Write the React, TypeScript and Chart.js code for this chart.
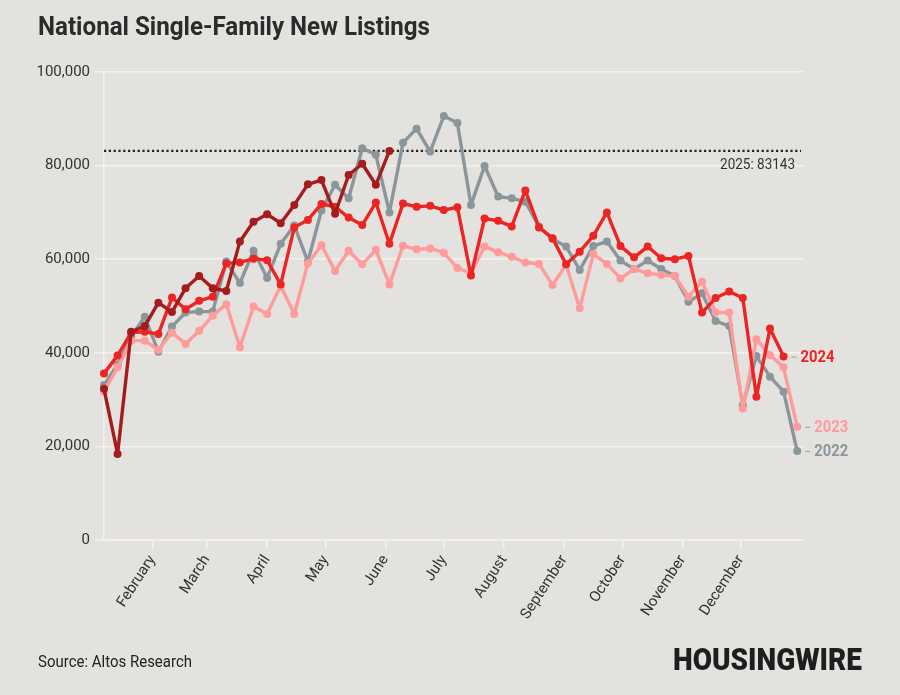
import React, { useEffect, useMemo, useRef } from "react";
import { Chart, registerables } from "chart.js";

Chart.register(...registerables);

// ---- data ----
const weekDays = [
  7, 14, 21, 28, 35, 42, 49, 56, 63, 70, 77, 84, 91, 98, 105, 112, 119, 126, 133, 140, 147, 154, 161, 168, 175, 182,
  189, 196, 203, 210, 217, 224, 231, 238, 245, 252, 259, 266, 273, 280, 287, 294, 301, 308, 315, 322, 329, 336, 343,
  350, 357, 364,
];

const monthTickDays = [32, 60, 91, 121, 152, 182, 213, 244, 274, 305, 335];
const monthNames = [
  "February",
  "March",
  "April",
  "May",
  "June",
  "July",
  "August",
  "September",
  "October",
  "November",
  "December",
];

const yTickValues = [0, 20000, 40000, 60000, 80000, 100000];

const values2022 = [
  33100, 37500, 43500, 47700, 40200, 45600, 48600, 48800, 48800, 59500, 54900, 61800, 56000, 63300, 67200, 59500,
  70400, 75900, 73000, 83700, 82300, 70000, 84900, 87900, 83000, 90600, 89100, 71600, 79900, 73400, 73000, 72300,
  67000, 64300, 62700, 57700, 62800, 63800, 59700, 57900, 59700, 57900, 56400, 50900, 52700, 46800, 45700, 28800,
  39300, 34900, 31700, 19000,
];

const values2023 = [
  31700, 36900, 42600, 42600, 40600, 44300, 41900, 44700, 47900, 50400, 41200, 49900, 48300, 54300, 48300, 59100,
  63000, 57500, 61800, 58900, 62000, 54600, 62900, 62100, 62300, 61400, 58100, 57000, 62700, 61500, 60500, 59300,
  59000, 54500, 58800, 49500, 61100, 59000, 55900, 57900, 57000, 56600, 56400, 52000, 55200, 48600, 48600, 28100,
  42900, 39500, 36900, 24200,
];

const values2024 = [
  35600, 39400, 44300, 44500, 44000, 51800, 49300, 51100, 52000, 59100, 59300, 60100, 59800, 54600, 66800, 68400,
  71800, 71200, 68900, 67300, 72100, 63300, 71900, 71200, 71400, 70500, 71100, 56500, 68700, 68200, 67000, 74700,
  66800, 64500, 58900, 61600, 65000, 70000, 62800, 60400, 62700, 60200, 60000, 60700, 48600, 51700, 53100, 51700,
  30600, 45200, 39200,
];

const values2025 = [
  32300, 18400, 44500, 45700, 50700, 48700, 53800, 56400, 53800, 53200, 63800, 68000, 69600, 67700, 71600, 76000,
  76900, 69700, 78000, 80400, 75900, 83143,
];

const ref2025 = 83143;
const refSpanDays = [7, 366];

// ---- styles ----
const BG = "#e4e2df";
const GRID = "#f3f2ef";
const TEXT = "#333333";
const C2022 = "#8b969a";
const C2023 = "#ff9b9b";
const C2024 = "#ec2424";
const C2025 = "#a51c1c";

const toPoints = (vals: number[]) => vals.map((v, i) => ({ x: weekDays[i], y: v }));

const seriesLabels = [
  { text: "2024", color: C2024, values: values2024 },
  { text: "2023", color: C2023, values: values2023 },
  { text: "2022", color: C2022, values: values2022 },
];

const labelPlugin = {
  id: "endLabels",
  afterDatasetsDraw(chart: any) {
    const ctx = chart.ctx as CanvasRenderingContext2D;
    const xs = chart.scales.x;
    const ys = chart.scales.y;
    ctx.save();
    // reference label
    ctx.font = "15px Roboto";
    ctx.fillStyle = TEXT;
    ctx.textBaseline = "middle";
    const refText = `2025: ${ref2025}`;
    const w = ctx.measureText(refText).width * 0.9;
    ctx.save();
    ctx.translate(chart.chartArea.right - 8 - w, ys.getPixelForValue(ref2025) + 14);
    ctx.scale(0.9, 1);
    ctx.fillText(refText, 0, 0);
    ctx.restore();

    // end labels
    seriesLabels.forEach((s) => {
      const i = s.values.length - 1;
      const px = xs.getPixelForValue(weekDays[i]);
      const py = ys.getPixelForValue(s.values[i]);
      ctx.strokeStyle = "#9a9a9a";
      ctx.lineWidth = 1;
      ctx.beginPath();
      ctx.moveTo(px + 8, py + 0.5);
      ctx.lineTo(px + 13, py + 0.5);
      ctx.stroke();
      ctx.save();
      ctx.translate(px + 17, py + 1);
      ctx.scale(0.87, 1);
      ctx.font = "bold 17px Roboto";
      ctx.fillStyle = s.color;
      ctx.textBaseline = "middle";
      ctx.fillText(s.text, 0, 0);
      ctx.restore();
    });
    ctx.restore();
  },
};

function FitText(props: {
  text: string;
  size: number;
  weight: number;
  width: number;
  left: number;
  top: number;
  color: string;
}) {
  const { text, size, weight, width, left, top, color } = props;
  const scale = useMemo(() => {
    const c = document.createElement("canvas").getContext("2d");
    if (!c) return 1;
    c.font = `${weight} ${size}px Roboto`;
    return width / c.measureText(text).width;
  }, [text, size, weight, width]);
  return (
    <div
      style={{
        position: "absolute",
        left,
        top,
        fontFamily: "Roboto",
        fontSize: size,
        fontWeight: weight,
        lineHeight: `${size}px`,
        color,
        whiteSpace: "nowrap",
        transform: `scaleX(${scale})`,
        transformOrigin: "left top",
      }}
    >
      {text}
    </div>
  );
}

export default function App() {
  const canvasRef = useRef<HTMLCanvasElement | null>(null);

  useEffect(() => {
    document.body.style.margin = "0";
    const canvas = canvasRef.current;
    if (!canvas) return;
    const lineDs = (label: string, vals: number[], color: string) => ({
      label,
      data: toPoints(vals),
      borderColor: color,
      backgroundColor: color,
      borderWidth: 3.4,
      borderJoinStyle: "round",
      borderCapStyle: "round",
      pointRadius: 4,
      pointBorderWidth: 0,
      pointBackgroundColor: color,
      tension: 0,
      clip: false,
    });
    const chart = new Chart(canvas, {
      type: "line",
      data: {
        datasets: [
          lineDs("2025", values2025, C2025) as any,
          lineDs("2024", values2024, C2024) as any,
          lineDs("2023", values2023, C2023) as any,
          lineDs("2022", values2022, C2022) as any,
          {
            label: "ref",
            data: refSpanDays.map((d) => ({ x: d, y: ref2025 })),
            borderColor: "#222222",
            borderWidth: 2.4,
            borderDash: [2.2, 2.6],
            pointRadius: 0,
          } as any,
        ],
      },
      options: {
        responsive: false,
        animation: false,
        events: [],
        layout: { padding: { left: 0, right: 97, top: 72, bottom: 0 } },
        plugins: { legend: { display: false }, tooltip: { enabled: false } },
        scales: {
          x: {
            type: "linear",
            min: 7,
            max: 367,
            afterBuildTicks: (s: any) => {
              s.ticks = monthTickDays.map((v) => ({ value: v }));
            },
            afterFit: (s: any) => {
              s.height = 155;
            },
            ticks: {
              autoSkip: false,
              maxRotation: 57,
              minRotation: 57,
              padding: 3,
              color: TEXT,
              font: { family: "Roboto", size: 15 },
              callback: (_v: any, i: number) => monthNames[i],
            },
            grid: { drawOnChartArea: false, drawTicks: true, tickLength: 9, color: GRID, lineWidth: 1.5 },
            border: { display: true, color: GRID, width: 1.5 },
          },
          y: {
            min: 0,
            max: 100000,
            afterBuildTicks: (s: any) => {
              s.ticks = yTickValues.map((v) => ({ value: v }));
            },
            afterFit: (s: any) => {
              s.width = 104;
            },
            ticks: {
              padding: 5,
              color: TEXT,
              font: { family: "Roboto", size: 15 },
              callback: (v: any) => Number(v).toLocaleString("en-US"),
            },
            grid: { color: GRID, lineWidth: 1.5, tickLength: 9 },
            border: { display: true, color: GRID, width: 1.5 },
          },
        },
      },
      plugins: [labelPlugin],
    });
    return () => chart.destroy();
  }, []);

  return (
    <div style={{ position: "relative", width: 900, height: 695, background: BG, overflow: "hidden" }}>
      <canvas
        ref={canvasRef}
        width={900}
        height={695}
        style={{ position: "absolute", left: 0, top: 0, width: 900, height: 695, display: "block" }}
      />
      <FitText
        text="National Single-Family New Listings"
        size={26}
        weight={700}
        width={392}
        left={38}
        top={13}
        color="#2b2b2b"
      />
      <FitText text="Source: Altos Research" size={16} weight={400} width={154} left={38} top={654} color="#222222" />
      <FitText text="HOUSINGWIRE" size={31} weight={900} width={189} left={673} top={644} color="#1e1e1e" />
    </div>
  );
}
